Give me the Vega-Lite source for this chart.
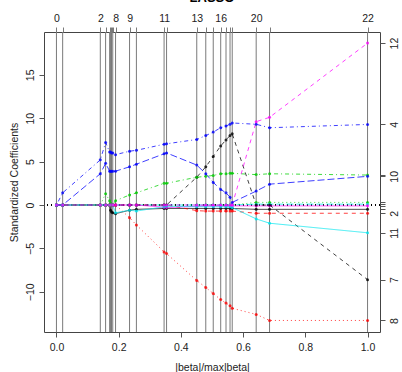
{
  "$schema": "https://vega.github.io/schema/vega-lite/v6.json",
  "width": 336,
  "height": 300,
  "autosize": "none",
  "padding": {"left": 44, "top": 32, "right": 22, "bottom": 40},
  "background": "white",
  "title": {"text": "LASSO", "fontSize": 13, "fontWeight": "bold", "font": "Liberation Sans", "anchor": "middle", "offset": 8, "color": "black"},
  "config": {
    "view": {"stroke": "#444", "strokeWidth": 1},
    "axis": {"labelFont": "Liberation Sans", "titleFont": "Liberation Sans", "labelFontSize": 10.5, "titleFontSize": 10.5, "labelColor": "#222", "titleColor": "#222", "tickColor": "#555", "domain": false, "grid": false, "titleFontWeight": "normal", "tickSize": 5}
  },
  "data": {"values": [
    {"step": 0, "frac": 0, "v1": 0, "v2": 0, "v3": 0, "v4": 0, "v5": 0, "v6": 0, "v7": 0, "v8": 0, "v9": 0, "v10": 0, "v11": 0, "v12": 0},
    {"step": 1, "frac": 0.02, "v1": 0, "v2": 0, "v3": 0, "v4": 1.4, "v5": 0, "v6": 0, "v7": 0, "v8": 0, "v9": 0, "v10": 0, "v11": 0, "v12": 0},
    {"step": 2, "frac": 0.141, "v1": 0, "v2": 0, "v3": 0, "v4": 5.2, "v5": 0, "v6": 0, "v7": 0, "v8": 0, "v9": 0, "v10": 3.6, "v11": 0, "v12": 0},
    {"step": 3, "frac": 0.158, "v1": 0, "v2": 0, "v3": 1.3, "v4": 7.2, "v5": 0, "v6": 0, "v7": 0, "v8": 0, "v9": 0, "v10": 4.8, "v11": 0, "v12": 0},
    {"step": 4, "frac": 0.171, "v1": 0, "v2": 0, "v3": 0.5, "v4": 6.1, "v5": 0, "v6": 0, "v7": 0, "v8": 0, "v9": 0, "v10": 3.9, "v11": 0, "v12": 0},
    {"step": 5, "frac": 0.174, "v1": -0.6, "v2": 0, "v3": 0.2, "v4": 6.1, "v5": 0, "v6": 0, "v7": 0, "v8": 0, "v9": 0, "v10": 3.9, "v11": 0, "v12": 0},
    {"step": 6, "frac": 0.177, "v1": -0.8, "v2": 0, "v3": 0, "v4": 6.0, "v5": 0, "v6": 0, "v7": 0, "v8": 0, "v9": 0, "v10": 3.9, "v11": 0, "v12": 0},
    {"step": 7, "frac": 0.181, "v1": -0.9, "v2": 0, "v3": 0, "v4": 6.0, "v5": 0, "v6": 0, "v7": 0, "v8": 0, "v9": 0, "v10": 3.9, "v11": 0, "v12": 0},
    {"step": 8, "frac": 0.19, "v1": -1.0, "v2": 0, "v3": 0, "v4": 5.8, "v5": 0, "v6": 0, "v7": 0, "v8": 0, "v9": 0.5, "v10": 3.9, "v11": -0.9, "v12": 0},
    {"step": 9, "frac": 0.235, "v1": -0.6, "v2": 0, "v3": 0, "v4": 6.2, "v5": 0, "v6": 0, "v7": 0, "v8": -1.46, "v9": 1.15, "v10": 4.4, "v11": -0.6, "v12": 0},
    {"step": 10, "frac": 0.257, "v1": -0.5, "v2": 0, "v3": 0, "v4": 6.3, "v5": 0, "v6": 0, "v7": 0, "v8": -2.3, "v9": 1.4, "v10": 4.7, "v11": -0.7, "v12": 0},
    {"step": 11, "frac": 0.346, "v1": -0.4, "v2": 0, "v3": 0, "v4": 7.0, "v5": 0, "v6": -0.25, "v7": 0, "v8": -5.4, "v9": 2.5, "v10": 5.9, "v11": -0.2, "v12": 0},
    {"step": 12, "frac": 0.354, "v1": -0.4, "v2": 0, "v3": 0, "v4": 7.05, "v5": 0, "v6": -0.3, "v7": 0, "v8": -5.6, "v9": 2.5, "v10": 6.0, "v11": -0.15, "v12": 0},
    {"step": 13, "frac": 0.451, "v1": -0.4, "v2": -0.65, "v3": 0, "v4": 7.55, "v5": 0, "v6": -0.15, "v7": 3.2, "v8": -8.7, "v9": 3.2, "v10": 4.6, "v11": -0.2, "v12": 0},
    {"step": 14, "frac": 0.48, "v1": -0.4, "v2": -0.7, "v3": 0, "v4": 8.0, "v5": 0, "v6": -0.1, "v7": 4.4, "v8": -9.5, "v9": 3.3, "v10": 3.6, "v11": -0.2, "v12": 0},
    {"step": 15, "frac": 0.504, "v1": -0.4, "v2": -0.7, "v3": 0, "v4": 8.4, "v5": 0, "v6": -0.1, "v7": 5.6, "v8": -10.2, "v9": 3.4, "v10": 2.6, "v11": -0.2, "v12": 0},
    {"step": 16, "frac": 0.528, "v1": -0.4, "v2": -0.7, "v3": 0, "v4": 8.9, "v5": 0, "v6": -0.1, "v7": 6.8, "v8": -10.9, "v9": 3.6, "v10": 1.8, "v11": -0.2, "v12": 0},
    {"step": 17, "frac": 0.545, "v1": -0.4, "v2": -0.7, "v3": 0, "v4": 9.1, "v5": 0, "v6": -0.1, "v7": 7.5, "v8": -11.3, "v9": 3.6, "v10": 1.4, "v11": -0.2, "v12": 0},
    {"step": 18, "frac": 0.558, "v1": -0.4, "v2": -0.7, "v3": 0, "v4": 9.3, "v5": 0, "v6": -0.1, "v7": 8.0, "v8": -11.6, "v9": 3.65, "v10": 0.9, "v11": -0.2, "v12": 0},
    {"step": 19, "frac": 0.565, "v1": -0.4, "v2": -0.7, "v3": 0, "v4": 9.45, "v5": 0, "v6": -0.1, "v7": 8.2, "v8": -11.9, "v9": 3.65, "v10": 0.3, "v11": -0.3, "v12": 0},
    {"step": 20, "frac": 0.642, "v1": -0.5, "v2": -0.95, "v3": 0.3, "v4": 9.3, "v5": 0.1, "v6": -0.1, "v7": 0, "v8": -12.6, "v9": 3.5, "v10": 1.6, "v11": -1.6, "v12": 9.6},
    {"step": 21, "frac": 0.685, "v1": -0.5, "v2": -0.95, "v3": 0.3, "v4": 8.9, "v5": 0.1, "v6": -0.1, "v7": 0, "v8": -13.3, "v9": 3.6, "v10": 2.4, "v11": -2.1, "v12": 10.1},
    {"step": 22, "frac": 1, "v1": -0.5, "v2": -0.95, "v3": 0.3, "v4": 9.28, "v5": 0.1, "v6": -0.1, "v7": -8.6, "v8": -13.3, "v9": 3.45, "v10": 3.3, "v11": -3.2, "v12": 18.65}
  ]},
  "layer": [
    {
      "mark": {"type": "rule", "color": "#7a7a7a", "strokeWidth": 1},
      "encoding": {
        "x": {"field": "frac", "type": "quantitative",
          "scale": {"domain": [-0.04, 1.04], "nice": false, "zero": false},
          "axis": {"orient": "top", "title": null, "values": [0,0.02,0.141,0.158,0.171,0.174,0.177,0.181,0.19,0.235,0.257,0.346,0.354,0.451,0.48,0.504,0.528,0.545,0.558,0.565,0.642,0.685,1],
            "labelExpr": "datum.value==0?'0':datum.value==0.141?'2':datum.value==0.19?'8':datum.value==0.235?'9':datum.value==0.346?'11':datum.value==0.451?'13':datum.value==0.528?'16':datum.value==0.642?'20':datum.value==1?'22':''",
            "labelOverlap": false, "labelFlush": false, "tickColor": "#7a7a7a", "labelPadding": 4}}
      }
    },
    {
      "mark": {"type": "rule", "color": "black", "strokeDash": [1, 3], "strokeWidth": 1},
      "encoding": {"y": {"datum": 0, "type": "quantitative", "scale": {"domain": [-14.63, 19.93], "nice": false, "zero": false}, "axis": null}}
    },
    {
      "transform": [{"fold": ["v1","v2","v3","v4","v5","v6","v7","v8","v9","v10","v11","v12"], "as": ["var", "coef"]}],
      "mark": {"type": "line", "strokeWidth": 1, "opacity": 0.75},
      "encoding": {
        "x": {"field": "frac", "type": "quantitative", "scale": {"domain": [-0.04, 1.04], "nice": false, "zero": false},
          "axis": {"orient": "bottom", "title": "|beta|/max|beta|", "values": [0,0.2,0.4,0.6,0.8,1], "format": ".1f", "labelPadding": 5, "titlePadding": 10, "labelFlush": false}},
        "y": {"field": "coef", "type": "quantitative", "scale": {"domain": [-14.63, 19.93], "nice": false, "zero": false},
          "axis": {"orient": "left", "title": "Standardized Coefficients", "values": [-10,-5,0,5,10,15], "labelAngle": 270, "labelAlign": "center", "labelBaseline": "bottom", "labelPadding": 4, "titlePadding": 6}},
        "color": {"field": "var", "type": "nominal", "legend": null,
          "scale": {"domain": ["v1","v2","v3","v4","v5","v6","v7","v8","v9","v10","v11","v12"], "range": ["#000000","#ff0000","#00cd00","#0000ff","#00e5ee","#ff00ff","#000000","#ff0000","#00cd00","#0000ff","#00e5ee","#ff00ff"]}},
        "strokeDash": {"field": "var", "type": "nominal", "legend": null,
          "scale": {"domain": ["v1","v2","v3","v4","v5","v6","v7","v8","v9","v10","v11","v12"], "range": [[1,0],[4,4],[1,3],[1,3,4,3],[7,3],[1,0],[4,4],[1,3],[1,3,4,3],[7,3],[1,0],[4,4]]}}
      }
    },
    {
      "transform": [{"fold": ["v1","v2","v3","v4","v5","v6","v7","v8","v9","v10","v11","v12"], "as": ["var", "coef"]}],
      "mark": {"type": "point", "filled": true, "size": 9, "opacity": 0.8},
      "encoding": {
        "x": {"field": "frac", "type": "quantitative", "scale": {"domain": [-0.04, 1.04], "nice": false, "zero": false}, "axis": null},
        "y": {"field": "coef", "type": "quantitative", "scale": {"domain": [-14.63, 19.93], "nice": false, "zero": false},
          "axis": {"orient": "right", "title": null, "values": [-0.5,-0.95,0.3,9.28,0.1,-0.1,-8.6,-13.3,3.45,3.3,-3.2,18.65],
            "labelExpr": "datum.value==18.65?'12':datum.value==9.28?'4':datum.value==3.3?'10':datum.value==-0.95?'2':datum.value==-3.2?'11':datum.value==-8.6?'7':datum.value==-13.3?'8':''",
            "labelOverlap": false, "labelFlush": false, "labelAngle": 270, "labelAlign": "center", "labelBaseline": "top", "labelPadding": 4}},
        "color": {"field": "var", "type": "nominal", "legend": null,
          "scale": {"domain": ["v1","v2","v3","v4","v5","v6","v7","v8","v9","v10","v11","v12"], "range": ["#000000","#ff0000","#00cd00","#0000ff","#00e5ee","#ff00ff","#000000","#ff0000","#00cd00","#0000ff","#00e5ee","#ff00ff"]}}
      }
    }
  ],
  "resolve": {"axis": {"x": "independent", "y": "independent"}}
}
